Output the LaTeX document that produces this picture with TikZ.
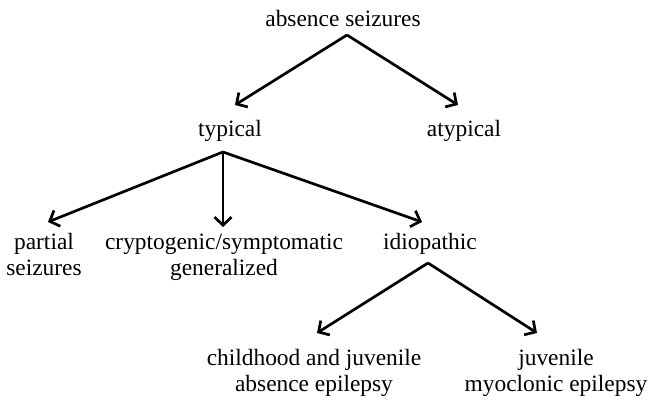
\documentclass[tikz,border=0pt]{standalone}
\usepackage{fontspec}
\setmainfont{Liberation Serif}
\usetikzlibrary{arrows.meta}
\begin{document}
\begin{tikzpicture}[x=1pt,y=1pt,
  lbl/.style={inner sep=0pt, anchor=base, align=center, font=\fontsize{23.4}{26}\selectfont},
  arr/.style={line width=2.7pt, -{Straight Barb[length=8pt,width=17pt,line width=2.7pt]}}]
\useasboundingbox (0,0) rectangle (648,403);
\node[lbl] (abs) at (343,376) {absence seizures};
\node[lbl] (typ) at (230,266) {typical};
\node[lbl] (atyp) at (464,266) {atypical};
\node[lbl] (part) at (44,127) {partial\\seizures};
\node[lbl] (cryp) at (224,127) {cryptogenic/symptomatic\\generalized};
\node[lbl] (idio) at (430,153) {idiopathic};
\node[lbl] (child) at (314,11) {childhood and juvenile\\absence epilepsy};
\node[lbl] (juv) at (556,11) {juvenile\\myoclonic epilepsy};
\draw[arr] ([xshift=4pt,yshift=-8pt]abs.base) -- ([xshift=5pt,yshift=32pt]typ.base);
\draw[arr] ([xshift=4pt,yshift=-8pt]abs.base) -- ([xshift=-6pt,yshift=32pt]atyp.base);
\draw[arr] ([xshift=-7pt,yshift=-15pt]typ.base) -- ([xshift=4pt,yshift=54pt]part.base);
\draw[arr] ([xshift=-7pt,yshift=-15pt]typ.base) -- ([xshift=-1pt,yshift=49pt]cryp.base);
\draw[arr] ([xshift=-7pt,yshift=-15pt]typ.base) -- ([xshift=-8pt,yshift=28pt]idio.base);
\draw[arr] ([xshift=-2pt,yshift=-13pt]idio.base) -- ([xshift=3pt,yshift=59pt]child.base);
\draw[arr] ([xshift=-2pt,yshift=-13pt]idio.base) -- ([xshift=-19pt,yshift=59pt]juv.base);
\end{tikzpicture}
\end{document}
